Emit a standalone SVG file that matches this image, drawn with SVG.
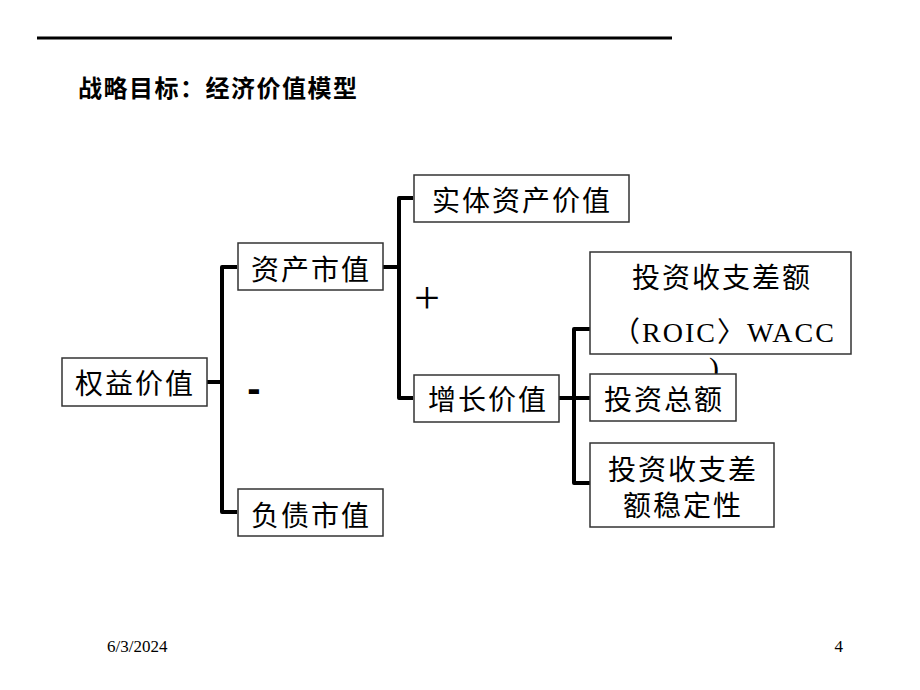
<svg xmlns="http://www.w3.org/2000/svg" width="920" height="690" viewBox="0 0 920 690">
<style>
.box{fill:#fff;stroke:#333;stroke-width:1.5}
.t{font-family:"Liberation Serif","Noto Sans CJK SC",serif;font-size:28px;fill:#000;text-anchor:middle;letter-spacing:2px}
.c{fill:none;stroke:#000;stroke-width:4;stroke-linejoin:round;stroke-linecap:butt}
.f{font-family:"Liberation Serif",serif;font-size:17px;fill:#000}
</style>
<rect width="920" height="690" fill="#fff"/>
<line x1="37" y1="38" x2="672" y2="38" stroke="#000" stroke-width="3"/>
<text x="78" y="97" font-family="Liberation Sans,'Noto Sans CJK SC',sans-serif" font-size="24" font-weight="bold" textLength="279" lengthAdjust="spacing">战略目标：经济价值模型</text>
<g id="connectors">
<path class="c" d="M207,382 H222 M237,267 H222 V512 H237"/>
<path class="c" d="M383,267 H399 M413,198 H399 V398 H413"/>
<path class="c" d="M559,398 H590 M590,329 H574 V483 H590"/>
</g>
<g id="n_equity"><rect class="box" x="62" y="358" width="145" height="48"/><text class="t" x="135" y="394">权益价值</text></g>
<g id="n_asset"><rect class="box" x="238" y="243" width="145" height="47"/><text class="t" x="311" y="280">资产市值</text></g>
<g id="n_debt"><rect class="box" x="238" y="489" width="145" height="47"/><text class="t" x="311" y="526">负债市值</text></g>
<g id="n_entity"><rect class="box" x="414" y="175" width="215" height="47"/><text class="t" x="522" y="211">实体资产价值</text></g>
<g id="n_growth"><rect class="box" x="414" y="375" width="145" height="47"/><text class="t" x="488" y="410">增长价值</text></g>
<g id="n_spread"><rect class="box" x="590" y="252" width="261" height="102"/><text class="t" x="722" y="288">投资收支差额</text><text class="t" x="724" y="342" font-size="29" letter-spacing="0">（ROIC〉WACC</text></g>
<text x="709" y="378" font-family="Liberation Serif,serif" font-size="30">)</text>
<g id="n_invest"><rect class="box" x="590" y="374" width="146" height="47"/><text class="t" x="664" y="410">投资总额</text></g>
<g id="n_stable"><rect class="box" x="590" y="443" width="184" height="84"/><text class="t" x="683" y="480">投资收支差</text><text class="t" x="683" y="516">额稳定性</text></g>
<text x="427" y="313" font-family="Liberation Serif,serif" font-size="46" text-anchor="middle">+</text>
<text x="254" y="402" font-family="Liberation Sans,sans-serif" font-size="40" font-weight="bold" text-anchor="middle">-</text>
<text class="f" x="107" y="652">6/3/2024</text>
<text class="f" x="843" y="652" text-anchor="end">4</text>
</svg>
